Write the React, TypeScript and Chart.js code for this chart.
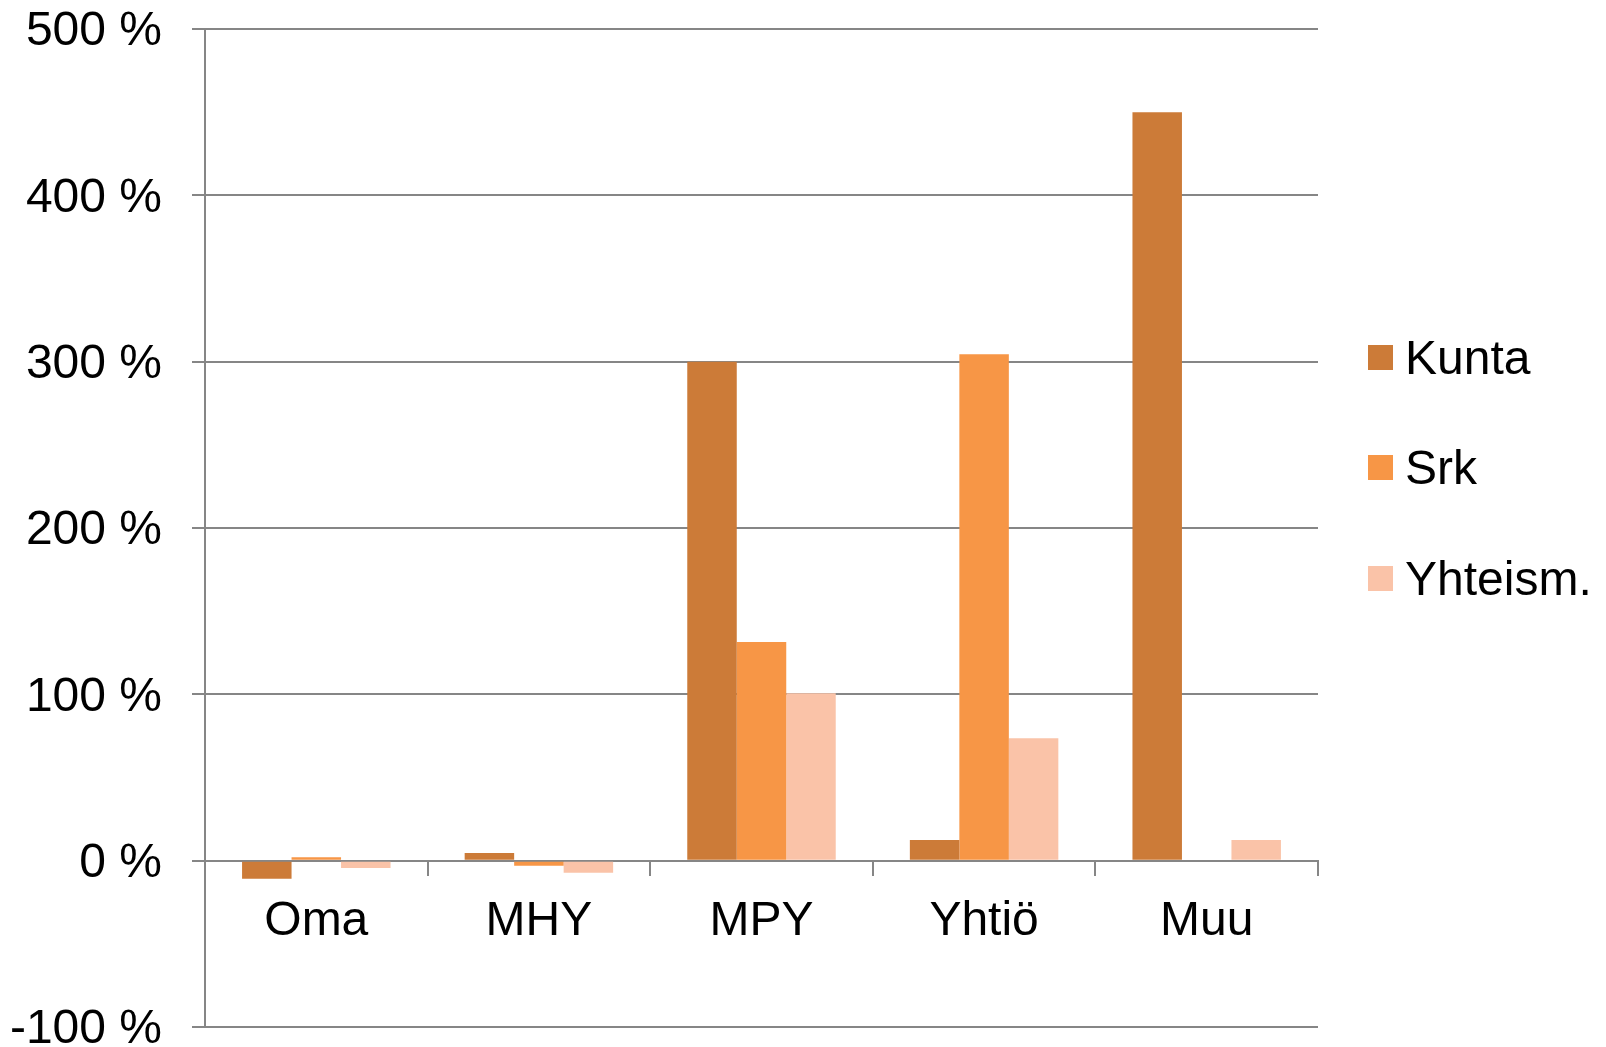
import React, { useEffect, useRef } from "react";
import { Chart, registerables } from "chart.js";

Chart.register(...registerables);

const categories = ["Oma", "MHY", "MPY", "Yhtiö", "Muu"];
const kunta = [-10.8, 4.6, 300, 12.4, 450];
const srk = [2, -3, 131.5, 304.5, 0];
const yhteism = [-4.4, -7.2, 100.7, 73.6, 12.4];
const seriesNames = ["Kunta", "Srk", "Yhteism."];
const seriesColors = ["#CC7B38", "#F79646", "#FAC3A8"];
const yTicks = [-100, 0, 100, 200, 300, 400, 500];

const FONT = "'Liberation Sans', Arial, sans-serif";
const GRAY = "#868686";
const FS = 48;

export default function App() {
  const ref = useRef<HTMLCanvasElement | null>(null);

  useEffect(() => {
    document.body.style.margin = "0";
    const ctx = ref.current!.getContext("2d")!;
    const chart = new Chart(ctx, {
      type: "bar",
      data: {
        labels: categories,
        datasets: [kunta, srk, yhteism].map((d, i) => ({
          label: seriesNames[i],
          data: d,
          backgroundColor: seriesColors[i],
          borderWidth: 0,
          categoryPercentage: 0.667,
          barPercentage: 1,
        })),
      },
      options: {
        animation: false,
        responsive: false,
        maintainAspectRatio: false,
        layout: { padding: { top: 29, bottom: 20, left: 0, right: 288 } },
        plugins: {
          legend: { display: false },
          tooltip: { enabled: false },
        },
        scales: {
          x: {
            position: { y: 0 } as any,
            grid: {
              drawOnChartArea: false,
              drawTicks: true,
              tickLength: 14,
              color: GRAY,
              lineWidth: 2,
              offset: true,
            },
            border: { color: GRAY, width: 2 },
            ticks: {
              color: "#000",
              font: { family: FONT, size: FS },
              padding: 18,
            },
          },
          y: {
            min: -100,
            max: 500,
            afterBuildTicks: (scale: any) => {
              scale.ticks = yTicks.map((v) => ({ value: v }));
            },
            afterFit: (scale: any) => {
              scale.width = 205;
              scale.paddingTop = 0;
              scale.paddingBottom = 0;
            },
            grid: {
              color: GRAY,
              lineWidth: 2,
              tickLength: 13,
            },
            border: { color: GRAY, width: 2 },
            ticks: {
              color: "#000",
              font: { family: FONT, size: FS },
              padding: 30,
              labelOffset: 3,
              callback: (v: any) => `${v} %`,
            },
          },
        },
      },
    });
    return () => chart.destroy();
  }, []);

  return (
    <div style={{ position: "fixed", left: 0, top: 0, width: 1606, height: 1047, background: "#fff" }}>
      <canvas ref={ref} width={1606} height={1047} style={{ display: "block" }} />
      {seriesNames.map((n, i) => (
        <div
          key={n}
          style={{
            position: "absolute",
            left: 1368,
            top: 357 + i * 110.5 - 30,
            height: 60,
            display: "flex",
            alignItems: "center",
            fontFamily: FONT,
            fontSize: FS,
            color: "#000",
            whiteSpace: "nowrap",
          }}
        >
          <span style={{ display: "inline-block", width: 25, height: 25, background: seriesColors[i], marginRight: 12 }} />
          <span>{n}</span>
        </div>
      ))}
    </div>
  );
}
